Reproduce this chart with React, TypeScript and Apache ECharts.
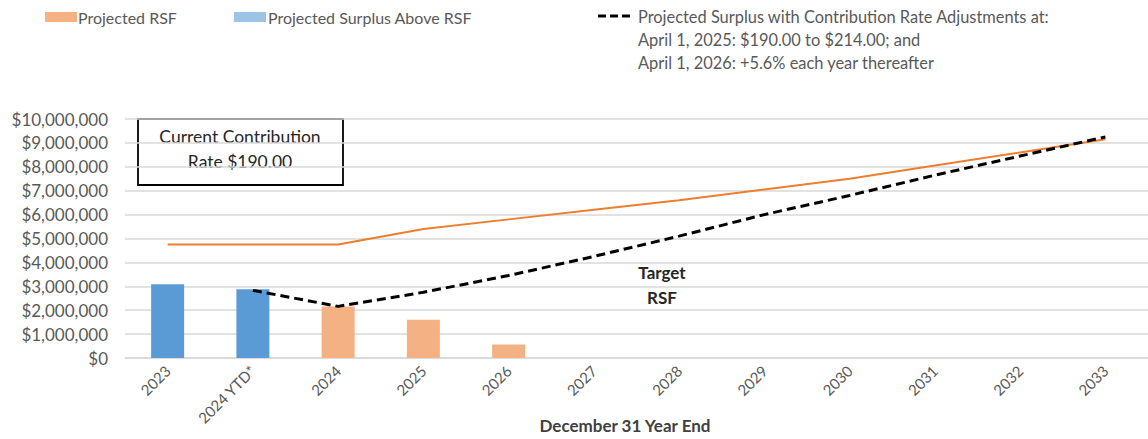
import React, { useEffect, useRef } from "react";
import * as echarts from "echarts";

const categories = ["2023", "2024 YTD*", "2024", "2025", "2026", "2027", "2028", "2029", "2030", "2031", "2032", "2033"];
const surplusBars = [3090000, 2880000, null, null, null, null, null, null, null, null, null, null];
const projectedRsfBars = [null, null, 2160000, 1600000, 560000, null, null, null, null, null, null, null];
const targetRsf = [4750000, 4750000, 4750000, 5400000, 5800000, 6200000, 6600000, 7050000, 7500000, 8050000, 8600000, 9150000];
const adjustedSurplus = [null, 2830000, 2160000, 2750000, 3450000, 4250000, 5100000, 6000000, 6800000, 7650000, 8450000, 9250000];
const legendLines = [
  "Projected Surplus with Contribution Rate Adjustments at:",
  "April 1, 2025: $190.00 to $214.00; and",
  "April 1, 2026: +5.6% each year thereafter",
];
const boxLines = ["Current Contribution", "Rate $190.00"];

const FONT = "Lato, 'Open Sans', sans-serif";
const GREY = "#595959";

function money(v: number) {
  return "$" + Math.round(v).toString().replace(/\B(?=(\d{3})+(?!\d))/g, ",");
}

export default function App() {
  const ref = useRef<HTMLDivElement>(null);
  useEffect(() => {
    if (!ref.current) return;
    const chart = echarts.init(ref.current, null, { renderer: "svg" });
    chart.setOption({
      animation: false,
      backgroundColor: "#ffffff",
      textStyle: { fontFamily: FONT },
      grid: { left: 125, top: 119, height: 239, width: 1032 },
      xAxis: {
        type: "category",
        data: categories,
        boundaryGap: true,
        axisLine: { show: true, lineStyle: { color: "#d9d9d9", width: 1.5 } },
        axisTick: { show: false },
        axisLabel: { rotate: 45, color: GREY, fontSize: 15, fontFamily: FONT, margin: 10, interval: 0 },
      },
      yAxis: {
        type: "value",
        min: 0,
        max: 10000000,
        interval: 1000000,
        axisLine: { show: false },
        axisTick: { show: false },
        splitLine: { lineStyle: { color: "#d9d9d9", width: 1.5 } },
        axisLabel: { color: GREY, fontSize: 17, fontFamily: FONT, margin: 17, formatter: (v: number) => money(v) },
      },
      series: [
        {
          name: "Projected Surplus Above RSF",
          type: "bar",
          stack: "bars",
          barWidth: 33,
          data: surplusBars,
          itemStyle: { color: "#5B9BD5" },
        },
        {
          name: "Projected RSF",
          type: "bar",
          stack: "bars",
          barWidth: 33,
          data: projectedRsfBars,
          itemStyle: { color: "#F4B183" },
        },
        {
          name: "Target RSF",
          type: "line",
          data: targetRsf,
          showSymbol: false,
          symbol: "none",
          lineStyle: { color: "#ED7D31", width: 2 },
        },
        {
          name: "Projected Surplus with Contribution Rate Adjustments",
          type: "line",
          data: adjustedSurplus,
          showSymbol: false,
          symbol: "none",
          lineStyle: { color: "#000000", width: 3, type: [9, 5] },
        },
      ],
      graphic: [
        { type: "rect", shape: { x: 45, y: 12, width: 32, height: 10 }, style: { fill: "#F4B183" } },
        { type: "text", x: 78, y: 17, style: { text: "Projected RSF", font: `16px ${FONT}`, fill: GREY, verticalAlign: "middle" } },
        { type: "rect", shape: { x: 234, y: 12, width: 32, height: 10 }, style: { fill: "#9DC3E6" } },
        { type: "text", x: 268, y: 17, style: { text: "Projected Surplus Above RSF", font: `16px ${FONT}`, fill: GREY, verticalAlign: "middle" } },
        { type: "line", shape: { x1: 598, y1: 16, x2: 631, y2: 16 }, style: { stroke: "#000", lineWidth: 3, lineDash: [8, 4] } },
        ...legendLines.map((t, i) => ({
          type: "text",
          x: 638,
          y: 16 + i * 23,
          style: { text: t, font: `16.4px ${FONT}`, fill: GREY, verticalAlign: "middle" },
        })),
        { type: "rect", shape: { x: 138, y: 119, width: 205, height: 66 }, style: { fill: "#ffffff", stroke: "#000", lineWidth: 1.8 } },
        ...boxLines.map((t, i) => ({
          type: "text",
          x: 240,
          y: 136 + i * 25,
          style: { text: t, font: `17.5px ${FONT}`, fill: "#262626", align: "center", verticalAlign: "middle" },
        })),
        { type: "text", x: 662, y: 272, style: { text: "Target", font: `bold 17px ${FONT}`, fill: "#262626", align: "center", verticalAlign: "middle" } },
        { type: "text", x: 662, y: 297, style: { text: "RSF", font: `bold 17px ${FONT}`, fill: "#262626", align: "center", verticalAlign: "middle" } },
        { type: "text", x: 625, y: 425, style: { text: "December 31 Year End", font: `bold 17px ${FONT}`, fill: "#404040", align: "center", verticalAlign: "middle" } },
      ],
    });
    return () => chart.dispose();
  }, []);
  return <div ref={ref} style={{ width: 1148, height: 439, position: "absolute", left: 0, top: 0 }} />;
}
